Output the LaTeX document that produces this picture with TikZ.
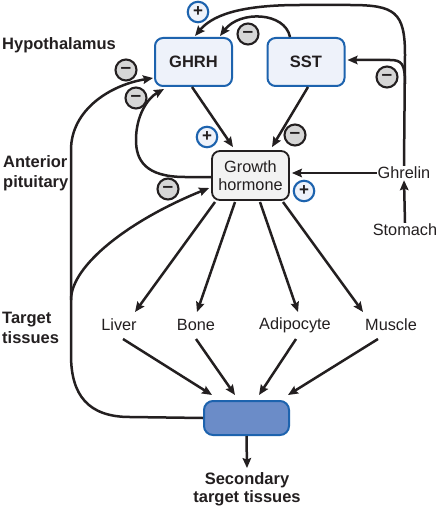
\documentclass[tikz,border=0pt]{standalone}
\usepackage{fontspec}
\setmainfont{Liberation Sans}
\usetikzlibrary{arrows.meta,calc}
\definecolor{ink}{HTML}{231F20}
\definecolor{bblue}{HTML}{1D63AE}
\definecolor{lblue}{HTML}{EEF2FA}
\definecolor{lgray}{HTML}{F2F2F2}
\definecolor{mgray}{HTML}{D6D6D6}
\definecolor{igfblue}{HTML}{6B8CC8}
\tikzset{
  hbox/.style={draw=bblue,fill=lblue,line width=2pt,rounded corners=8pt,minimum width=77pt,minimum height=48pt,font=\bfseries\fontsize{16.5}{19}\selectfont,text=ink},
  ghbox/.style={draw=ink,fill=lgray,line width=1.8pt,rounded corners=8pt,minimum width=77pt,minimum height=49pt,align=center,font=\fontsize{16.3}{18}\selectfont,text=ink,inner sep=1pt},
  igfbox/.style={draw=bblue,fill=igfblue,line width=2pt,rounded corners=9pt,minimum width=85pt,minimum height=34pt},
  lab/.style={font=\bfseries\fontsize{16.5}{20}\selectfont,text=ink,align=left,anchor=west,inner sep=0pt},
  tis/.style={font=\fontsize{16.3}{19}\selectfont,text=ink,inner sep=1pt},
  conn/.style={draw=ink,line width=2.5pt,-{Stealth[length=10pt,width=8.5pt,inset=1.5pt]}},
  minus/.style={circle,draw=ink,fill=mgray,line width=2.1pt,minimum size=21pt,inner sep=0pt,font=\bfseries\fontsize{19}{19}\selectfont,text=ink},
  plus/.style={circle,draw=bblue,fill=lblue,line width=2.1pt,minimum size=20.5pt,inner sep=0pt,font=\bfseries\fontsize{17}{17}\selectfont,text=ink},
}
\begin{document}
\begin{tikzpicture}[x=1pt,y=-1pt]
\useasboundingbox (0,0) rectangle (438,508);
\fill[white] (0,0) rectangle (438,508);

% labels
\node[lab] (hyp) at (2,45) {Hypothalamus};
\node[lab] (ant) at (3,173) {Anterior\\pituitary};
\node[lab] (tar) at (2,327.5) {Target\\tissues};

% boxes
\node[hbox] (ghrh) at (193.5,62) {GHRH};
\node[hbox] (sst) at (306,62) {SST};
\node[ghbox] (gh) at (250.5,175.5) {Growth\\hormone};
\node[igfbox] (igf) at (246.5,418) {};
\node[font=\bfseries\fontsize{16.5}{18}\selectfont,text=ink,align=center,inner sep=0pt] (sec) at (247,489) {Secondary\\target tissues};

% text nodes
\node[tis] (ghrelin) at (404,173) {Ghrelin};
\node[tis] (stomach) at (405,230) {Stomach};
\node[tis] (liver) at (119,325) {Liver};
\node[tis] (bone) at (196,325) {Bone};
\node[tis] (adipo) at (295,325) {Adipocyte};
\node[tis] (muscle) at (391,325) {Muscle};

% stomach -> ghrelin -> GH
\draw[conn] (stomach.north) -- (ghrelin.south);
\draw[conn] (ghrelin.west) -- ($(gh.east)+(2,-2.5)$);

% ghrelin up to GHRH
\coordinate (vj) at (405,84);
\draw[conn] (ghrelin.north) -- (405,55) .. controls (405,12) and (395,5) .. (350,5) -- (300,5) .. controls (250,5) and (215,12) .. ($(ghrh.north)+(1.5,-1)$);
% branch to SST
\draw[conn] (vj) .. controls (405,64) and (402,60) .. (390,60) -- ($(sst.east)+(2,-2)$);

% SST -> GHRH
\draw[conn] ($(sst.north)+(-16,0)$) .. controls (285,12) and (240,10) .. ($(ghrh.north)+(26.5,-1)$);

% GHRH, SST -> GH
\draw[conn] ($(ghrh.south)+(-1.5,0)$) -- ($(gh.north)+(-17.5,-3)$);
\draw[conn] ($(sst.south)+(2,0)$) -- ($(gh.north)+(21.5,-3)$);

% short loop GH -> GHRH
\draw[conn] ($(gh.west)+(0,1.5)$) -- (185,177) .. controls (145,177) and (136,160) .. (136,140) .. controls (136,115) and (148,98) .. ($(ghrh.south west)+(10,2)$);

% long loop IGF -> GHRH
\draw[conn] (igf.west) -- (130,417) .. controls (88,417) and (71,395) .. (71,355) -- (71,150) .. controls (71,110) and (110,85) .. ($(ghrh.west)+(-1,16)$);
% branch to GH
\coordinate (bj) at (71,300);
\draw[conn] (bj) .. controls (71,265) and (130,220) .. ($(gh.west)+(-2,12.5)$);

% GH -> tissues
\draw[conn] ($(gh.center)+(-35.5,26.5)$) -- ($(liver.center)+(16,-13)$);
\draw[conn] ($(gh.center)+(-15.5,26.5)$) -- ($(bone.center)+(1,-13)$);
\draw[conn] ($(gh.center)+(9.5,26.5)$) -- ($(adipo.center)+(3,-13)$);
\draw[conn] ($(gh.center)+(32.5,26.5)$) -- ($(muscle.center)+(-28,-13)$);

% tissues -> IGF
\draw[conn] ($(liver.center)+(4,14)$) -- ($(igf.center)+(-34.5,-23)$);
\draw[conn] ($(bone.center)+(0,14)$) -- ($(igf.center)+(-11.5,-23)$);
\draw[conn] ($(adipo.center)+(1,14)$) -- ($(igf.center)+(12.5,-23)$);
\draw[conn] ($(muscle.center)+(-13,14)$) -- ($(igf.center)+(41.5,-23)$);

% IGF -> secondary
\draw[conn] (igf.south) -- ($(sec.north)+(0,-4)$);

% signs
\node[plus] (p1) at (198,12) {+};
\node[minus] (m1) at (248,34) {–};
\node[minus] (m2) at (387,77) {–};
\node[minus] (m3) at (126,70) {–};
\node[minus] (m4) at (136,98) {–};
\node[plus] (p2) at (207,137) {+};
\node[minus] (m5) at (295,135) {–};
\node[minus] (m6) at (168,189) {–};
\node[plus] (p3) at (304,191) {+};
\end{tikzpicture}
\end{document}
